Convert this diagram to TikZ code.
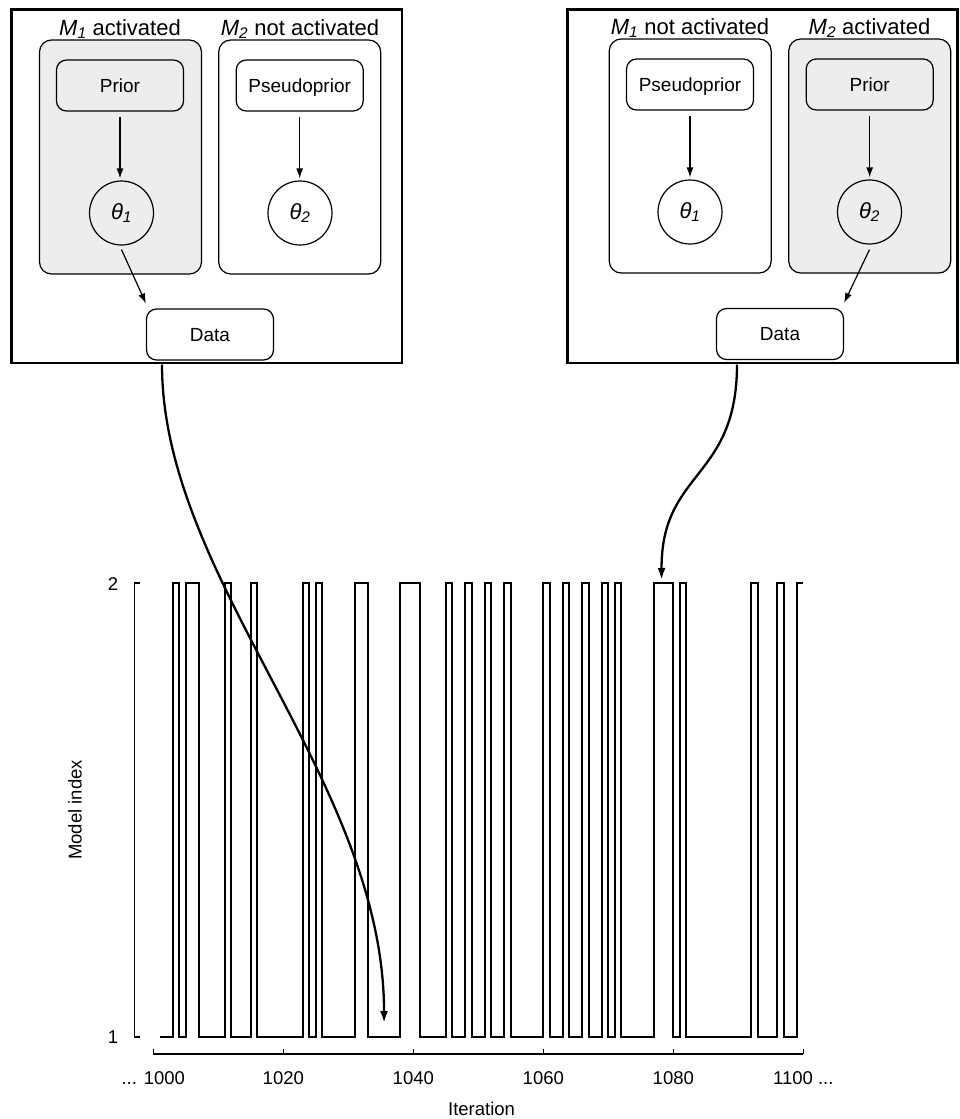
\documentclass[tikz,border=0pt]{standalone}
\usepackage{fontspec}
\setmainfont{Liberation Sans}
\usetikzlibrary{arrows.meta}
\begin{document}
\begin{tikzpicture}[x=1pt,y=-1pt,
  frame/.style={draw, line width=2.8pt},
  panel/.style={draw, line width=1.2pt, rounded corners=12pt, minimum width=162pt, minimum height=234pt},
  act/.style={fill=black!7},
  pbox/.style={draw, line width=1.2pt, rounded corners=10pt, minimum width=127pt, minimum height=51pt, inner sep=0pt, text height=13.6pt, text depth=0pt, font=\fontsize{19}{22}\selectfont},
  par/.style={draw, circle, line width=1.2pt, minimum size=64pt, inner sep=0pt, font=\fontsize{22}{26}\selectfont\itshape},
  ttl/.style={anchor=base, inner sep=0pt, font=\fontsize{22}{26}\selectfont},
  edge/.style={line width=1.2pt, -{Latex[length=10pt,width=7pt]}},
  link/.style={line width=2.3pt, -{Latex[length=12pt,width=8pt]}},
  trace/.style={line width=2.2pt},
  axis/.style={line width=1.4pt},
  lab/.style={font=\fontsize{18.5}{22}\selectfont}
]
\useasboundingbox (0,0) rectangle (959,1119);

% ---------- left panel group ----------
\draw[frame] (11.5,9.5) rectangle (402,363);
\node[panel, act] (lp1) at (120.5,157) {};
\node[panel] (lp2) at (299.7,157) {};
\node[ttl] (lt1) at (120,35) {\textit{M}\textsubscript{\textit{1}} activated};
\node[ttl] (lt2) at (300,35) {\textit{M}\textsubscript{\textit{2}} not activated};
\node[pbox, act] (lprior) at (120,85.5) {Prior};
\node[pbox] (lpseudo) at (299.7,85.5) {Pseudoprior};
\node[par] (lth1) at (121.5,213) {θ\textsubscript{1}};
\node[par] (lth2) at (300,213) {θ\textsubscript{2}};
\node[pbox] (ldata) at (210,334.5) {Data};
\draw[edge, shorten <=5pt, shorten >=2pt] (lprior) -- (lprior |- lth1.north);
\draw[edge, shorten <=5pt, shorten >=2pt] (lpseudo) -- (lpseudo |- lth2.north);
\draw[edge] ([yshift=-4pt]lth1.south) -- ([yshift=5pt]ldata.north west);

% ---------- right panel group ----------
\draw[frame] (567.5,9.5) rectangle (957.5,363);
\node[panel] (rp1) at (690.2,156) {};
\node[panel, act] (rp2) at (869.7,156) {};
\node[ttl] (rt1) at (690,34) {\textit{M}\textsubscript{\textit{1}} not activated};
\node[ttl] (rt2) at (869.5,34) {\textit{M}\textsubscript{\textit{2}} activated};
\node[pbox] (rpseudo) at (690,84.5) {Pseudoprior};
\node[pbox, act] (rprior) at (869.7,84.5) {Prior};
\node[par] (rth1) at (690,212) {θ\textsubscript{1}};
\node[par] (rth2) at (869.5,212) {θ\textsubscript{2}};
\node[pbox] (rdata) at (780,334) {Data};
\draw[edge, shorten <=5pt, shorten >=2pt] (rpseudo) -- (rpseudo |- rth1.north);
\draw[edge, shorten <=5pt, shorten >=2pt] (rprior) -- (rprior |- rth2.north);
\draw[edge] ([yshift=-5pt]rth2.south) -- ([yshift=5pt]rdata.north east);

% ---------- trace plot ----------
\draw[axis] (140,583) -- (134.5,583) -- (134.5,1037) -- (140,1037);
\node[lab] (y2) at (113,584) {2};
\node[lab] (y1) at (113,1037) {1};
\node[lab, rotate=90] (ylab) at (75,810) {Model index};
\begin{scope}[shift={(153.3pt,0pt)}, x=6.5pt]
  \draw[trace] (1,1037)
    foreach \a/\b in {3/4,5/7,11/12,15/16,23/24,25/26,31/33,38/41,45/46,48/49,51/52,54/55,60/61,63/64,66/67,69/70,71/72,77/80,81/82,92/93,96/97}
      { -- (\a,1037) -- (\a,583) -- (\b,583) -- (\b,1037) }
    -- (99,1037) -- (99,583) -- (100,583);
  \draw[axis] (0,1054) -- (100,1054);
  \foreach \t in {0,20,...,100} \draw[axis] (\t,1054) -- (\t,1049);
  \node[lab, anchor=base] (x0) at (0,1084) {... 1000};
  \node[lab, anchor=base] (x20) at (20,1084) {1020};
  \node[lab, anchor=base] (x40) at (40,1084) {1040};
  \node[lab, anchor=base] (x60) at (60,1084) {1060};
  \node[lab, anchor=base] (x80) at (80,1084) {1080};
  \node[lab, anchor=base] (x100) at (100,1084) {1100 ...};
  \node[lab, anchor=base] (xlab) at (50.5,1115) {Iteration};
  \coordinate (ltgt) at (35.5,1023);
  \coordinate (rtgt) at (78.2,580);
\end{scope}

% ---------- links ----------
\coordinate (lsrc) at (162,364.5);
\coordinate (rsrc) at (737,364.5);
\draw[link] (lsrc) .. controls (162,580) and (384,780) .. (ltgt);
\draw[link] (rsrc) .. controls (737,480) and (661,470) .. (rtgt);
\end{tikzpicture}
\end{document}
